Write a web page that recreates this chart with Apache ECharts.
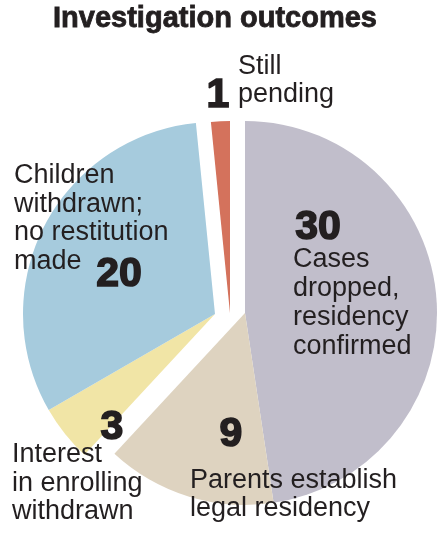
<!DOCTYPE html>
<html>
<head>
<meta charset="utf-8">
<script src="https://cdn.jsdelivr.net/npm/echarts@6/dist/echarts.min.js"></script>
<style>
  html, body { margin: 0; padding: 0; background: #ffffff; }
  #chart { width: 438px; height: 535px; }
</style>
</head>
<body>
<div id="chart"></div>
<script>
// ---- Data ----
const title = 'Investigation outcomes';
const categories = [
  'Cases\ndropped,\nresidency\nconfirmed',
  'Parents establish\nlegal residency',
  'Interest\nin enrolling\nwithdrawn',
  'Children\nwithdrawn;\nno restitution\nmade',
  'Still\npending'
];
const values = [30, 9, 3, 20, 1];
const colors = ['#c1becb', '#ded3c0', '#f1e5a6', '#a6cbdd', '#d4725c'];

// Slice groups that are pulled out together (indices into values)
const groups = [
  { members: [0, 1], center: [245, 313] },
  { members: [2, 3], center: [215, 314] },
  { members: [4],    center: [230, 313] }
];

const TEXT = '#231f20';
const LABEL_FONT = "'Liberation Sans', Arial, sans-serif";

function textEl(text, x, firstBaseline, fs, weight, lh, align, family, heavy) {
  const top = firstBaseline - lh / 2 - 0.31 * fs;
  const style = {
    text: text,
    fill: TEXT,
    font: weight + ' ' + fs + 'px ' + (family || LABEL_FONT),
    lineHeight: lh,
    textAlign: align || 'left',
    textVerticalAlign: 'top'
  };
  if (heavy) {
    style.stroke = TEXT;
    style.lineWidth = heavy;
    style.lineJoin = 'round';
  }
  return {
    type: 'text',
    x: x, y: top,
    z: 100,
    silent: true,
    style: style
  };
}

const series = groups.map(g => ({
  type: 'pie',
  z: 1,
  center: g.center,
  radius: [0, 192],
  startAngle: 90,
  clockwise: true,
  silent: true,
  animation: false,
  label: { show: false },
  labelLine: { show: false },
  emphasis: { disabled: true, scale: false },
  itemStyle: { borderWidth: 0 },
  data: values.map((v, i) => ({
    value: v,
    name: categories[i],
    itemStyle: {
      color: g.members.includes(i) ? colors[i] : 'rgba(0,0,0,0)',
      borderWidth: 0
    }
  }))
}));

const chart = echarts.init(document.getElementById('chart'), null, { renderer: 'canvas' });
chart.setOption({
  animation: false,
  series: series,
  graphic: {
    elements: [
      textEl(title, 215, 28, 29, 'bold', 29, 'center', "'Liberation Sans Narrow', 'Arial Narrow', 'Liberation Sans', sans-serif", 0.8),
      // value numbers
      textEl(String(values[0]), 318, 240, 41, 'bold', 41, 'center', null, 1.6),
      textEl(String(values[1]), 231, 447, 41, 'bold', 41, 'center', null, 1.6),
      textEl(String(values[2]), 112, 440, 41, 'bold', 41, 'center', null, 1.6),
      textEl(String(values[3]), 119, 287, 41, 'bold', 41, 'center', null, 1.6),
      textEl(String(values[4]), 218, 108, 41, 'bold', 41, 'center', null, 1.6),
      // category labels
      textEl(categories[0], 293, 268, 27, 'normal', 29, 'left'),
      textEl(categories[1], 190, 489, 27, 'normal', 27.5, 'left'),
      textEl(categories[2], 12, 463, 27, 'normal', 28.5, 'left'),
      textEl(categories[3], 14, 184, 27, 'normal', 28.6, 'left'),
      textEl(categories[4], 238, 75, 27, 'normal', 28, 'left')
    ]
  }
});
</script>
</body>
</html>
